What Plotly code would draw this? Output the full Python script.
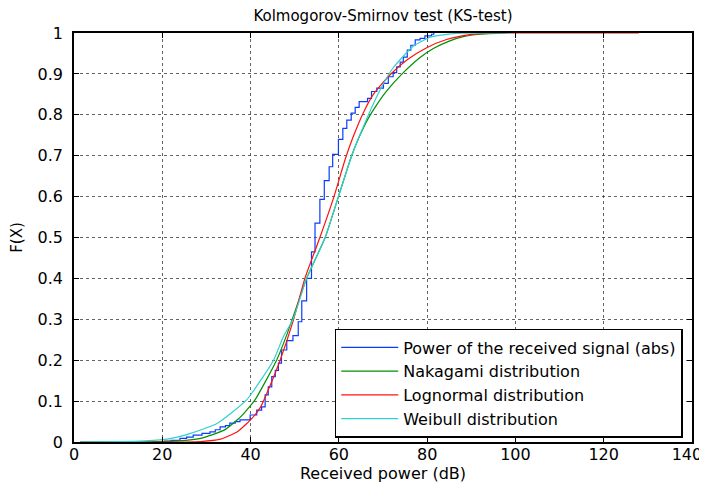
import plotly.graph_objects as go

# Empirical CDF (stairs) of received power
emp_x = [19.5, 20.5, 22.0, 24.0, 25.5, 27.0, 29.0, 30.8, 32.0, 33.1, 34.3, 35.3, 36.5, 37.6,
         39.9, 41.4, 42.5, 43.3, 44.0, 44.8, 45.6, 46.3, 47.0, 48.2, 49.6, 50.8, 51.6, 52.7,
         53.8, 54.6, 55.7, 56.7, 57.8, 58.6, 59.9, 60.9, 61.8, 62.8, 63.7, 64.6, 66.5, 67.4,
         68.6, 70.1, 71.2, 72.3, 73.1, 73.9, 74.6, 75.5, 76.3, 77.3, 78.4, 79.5, 81.0, 81.5]
emp_f = [0.0, 0.002, 0.004, 0.009, 0.012, 0.017, 0.021, 0.025, 0.030, 0.037, 0.040, 0.046, 0.050, 0.054,
         0.066, 0.078, 0.086, 0.115, 0.135, 0.160, 0.175, 0.193, 0.225, 0.248, 0.260, 0.294, 0.345, 0.400,
         0.465, 0.535, 0.593, 0.639, 0.673, 0.703, 0.740, 0.767, 0.787, 0.804, 0.818, 0.832, 0.840, 0.857,
         0.865, 0.877, 0.893, 0.903, 0.917, 0.929, 0.941, 0.958, 0.970, 0.983, 0.987, 0.993, 0.997, 1.0]

# Nakagami fit
nak_x = [1.4, 15.0, 22.7, 28.7, 34.0, 37.8, 41.0, 45.9, 48.2, 52.7, 56.9, 59.9, 62.9, 64.7,
         66.6, 68.6, 70.8, 74.6, 78.4, 81.4, 85.0, 88.2, 92.0, 98.0]
nak_f = [0.0, 0.0005, 0.002, 0.009, 0.029, 0.062, 0.103, 0.200, 0.262, 0.400, 0.500, 0.600, 0.700, 0.748,
         0.790, 0.825, 0.858, 0.903, 0.940, 0.962, 0.980, 0.991, 0.997, 1.0]

# Lognormal fit
log_x = [1.4, 25.0, 28.7, 33.2, 37.0, 40.0, 42.3, 44.5, 46.7, 49.7, 52.3, 55.7, 58.9, 61.4,
         63.2, 65.5, 67.8, 71.6, 75.4, 79.9, 84.4, 89.7, 95.0, 105.0, 128.0]
log_f = [0.0, 0.0, 0.001, 0.007, 0.025, 0.054, 0.086, 0.140, 0.200, 0.298, 0.400, 0.500, 0.600, 0.690,
         0.745, 0.804, 0.850, 0.898, 0.934, 0.964, 0.984, 0.996, 1.0, 1.0, 1.0]

# Weibull fit
wei_x = [1.4, 15.1, 21.1, 26.4, 32.5, 39.1, 45.2, 47.4, 49.7, 52.7, 56.9, 59.9, 62.9, 66.3,
         69.3, 72.3, 76.9, 80.7, 86.6, 99.0]
wei_f = [0.0, 0.002, 0.007, 0.021, 0.046, 0.103, 0.200, 0.257, 0.302, 0.400, 0.500, 0.600, 0.700, 0.790,
         0.860, 0.915, 0.968, 0.990, 0.999, 1.0]

x_ticks = [0, 20, 40, 60, 80, 100, 120, 140]
x_labels = ["0", "20", "40", "60", "80", "100", "120", "140\u00a0\u00a0"]
y_ticks = [0, 0.1, 0.2, 0.3, 0.4, 0.5, 0.6, 0.7, 0.8, 0.9, 1]
y_labels = ["0", "0.1", "0.2", "0.3", "0.4", "0.5", "0.6", "0.7", "0.8", "0.9", "1"]

FONT = "DejaVu Sans, Liberation Sans, Arial, sans-serif"

fig = go.Figure()
fig.add_trace(go.Scatter(x=emp_x, y=emp_f, mode="lines", line=dict(color="#0a3cff", width=1.2, shape="hv"),
                         name="Power of the received signal (abs)"))
fig.add_trace(go.Scatter(x=nak_x, y=nak_f, mode="lines", line=dict(color="#009000", width=1.2, shape="spline", smoothing=0.5),
                         name="Nakagami distribution"))
fig.add_trace(go.Scatter(x=log_x, y=log_f, mode="lines", line=dict(color="#ff1010", width=1.2, shape="spline", smoothing=0.5),
                         name="Lognormal distribution"))
fig.add_trace(go.Scatter(x=wei_x, y=wei_f, mode="lines", line=dict(color="#30d0d0", width=1.2, shape="spline", smoothing=0.5),
                         name="Weibull distribution"))

axis_common = dict(
    showline=True, linecolor="black", linewidth=1.5, mirror="ticks",
    ticks="inside", ticklen=5, tickcolor="black", automargin=False,
    ticklabeloverflow="allow",
    showgrid=True, gridcolor="rgba(60,60,60,0.8)", gridwidth=1, griddash="dot",
    zeroline=False, tickfont=dict(family=FONT, size=16, color="black"),
)

# The page body adds an 8px margin, so the figure is offset by 8px.
fig.update_layout(
    width=699, height=480,
    margin=dict(l=66, r=15, t=25, b=46),
    paper_bgcolor="white", plot_bgcolor="white",
    font=dict(family=FONT, color="black"),
    title=dict(text="Kolmogorov-Smirnov test (KS-test)", xref="container", x=0.5365, xanchor="center",
               yref="container", y=0.984, yanchor="middle",
               font=dict(family=FONT, size=15, color="black"), automargin=False),
    xaxis=dict(range=[0, 140], tickvals=x_ticks, ticktext=x_labels,
               ticklabelstandoff=-3,
               title=dict(text="Received power (dB)", font=dict(family=FONT, size=16), standoff=5),
               **axis_common),
    yaxis=dict(range=[0, 1], tickvals=y_ticks, ticktext=y_labels,
               ticklabelstandoff=6,
               title=dict(text="F(X)", font=dict(family=FONT, size=15), standoff=13),
               **axis_common),
    legend=dict(x=0.985, y=0.01, xanchor="right", yanchor="bottom",
                bgcolor="white", bordercolor="black", borderwidth=1.5,
                font=dict(family=FONT, size=16, color="black"),
                itemwidth=57, tracegroupgap=0, traceorder="normal"),
    showlegend=True,
)

fig.write_html("out.html")
